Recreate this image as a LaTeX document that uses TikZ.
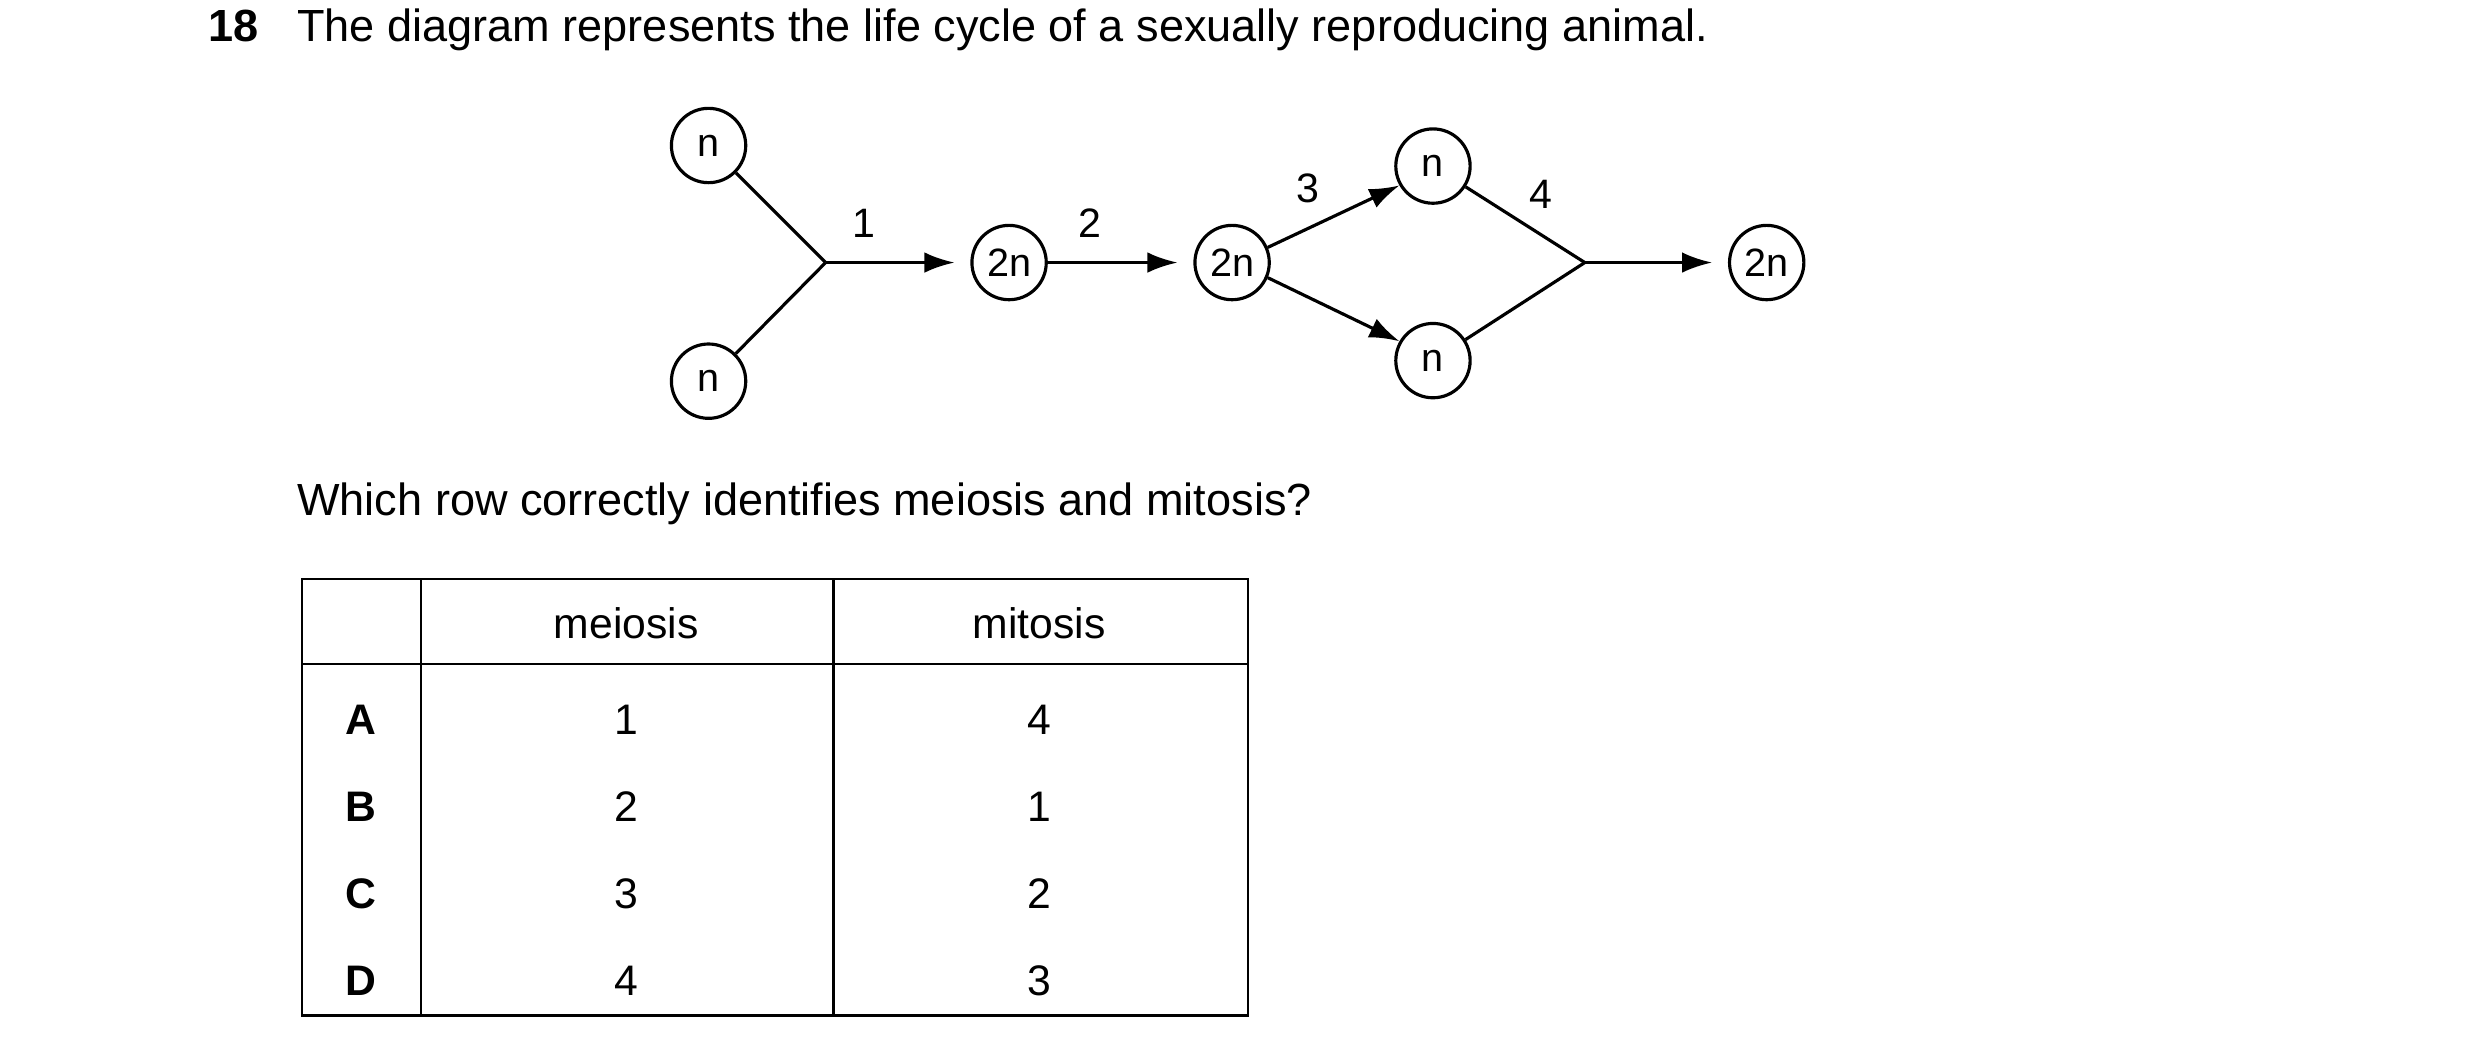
\documentclass[tikz,border=0pt]{standalone}
\usepackage{fontspec}
\setmainfont{Liberation Sans}
\usetikzlibrary{arrows.meta,positioning}
\tikzset{
	cellNode/.style={
		draw=black,
		line width=2pt,
		circle,
		minimum size=47pt,
		inner sep=0pt,
		font=\fontsize{25}{29}\selectfont
	},
	stepLabel/.style={
		font=\fontsize{26}{30}\selectfont
	},
	tabText/.style={
		font=\fontsize{27}{31}\selectfont
	},
}
\begin{document}
\begin{tikzpicture}[x=1pt, y=-1pt, line width=2pt
    ,   toCell/.style={-{Latex[length=19pt, width=13pt]}}]
\useasboundingbox (0,0) rectangle (1568,668);

% question text
\node[anchor=base west, inner sep=0pt, font=\fontsize{28.5}{32}\selectfont\bfseries] (qnum) at (131,26){18};
\node[anchor=base west, inner sep=0pt, font=\fontsize{28.5}{32}\selectfont] (qtext) at (187,26){The diagram represents the life cycle of a sexually reproducing animal.};

% cells
\node[cellNode] (G1) at (448,92){n};
\node[cellNode] (G2) at (448,241){n};
\node[cellNode] (Z1) at (638,166){2n};
\node[cellNode] (Z2) at (779,166){2n};
\node[cellNode] (G3) at (906,105){n};
\node[cellNode] (G4) at (906,228){n};
\node[cellNode] (Z3) at (1117,166){2n};
\coordinate (J1) at (522,166);
\coordinate (J2) at (1002,166);

% connectors
\draw (G1) -- (J1);
\draw (G2) -- (J1);
\draw[toCell] (J1) -- ([xshift=-10pt]Z1.west);
\draw[toCell] (Z1) -- ([xshift=-10pt]Z2.west);
\draw[toCell] (Z2.23) -- (G3.210);
\draw[toCell] (Z2.-23) -- (G4.150);
\draw (G3) -- (J2);
\draw (G4) -- (J2);
\draw[toCell] (J2) -- ([xshift=-10pt]Z3.west);

% step labels
\node[stepLabel] (L1) at (546,141){1};
\node[stepLabel] (L2) at (689,141){2};
\node[stepLabel] (L3) at (827,119){3};
\node[stepLabel] (L4) at (974,123){4};

\node[anchor=base west, inner sep=0pt, font=\fontsize{28.5}{32}\selectfont] (ask) at (187,326){Which row correctly identifies meiosis and mitosis?};

% table
\draw[line width=1.5pt] (191,366) rectangle (789,642);
\draw[line width=1.5pt] (191,420) -- (789,420);
\draw[line width=1.5pt] (266,366) -- (266,642);
\draw[line width=1.5pt] (527,366) -- (527,642);
\node[tabText] (hMe) at (396,394){meiosis};
\node[tabText] (hMi) at (657,394){mitosis};
\foreach \r/\a/\b [count=\i] in {A/1/4, B/2/1, C/3/2, D/4/3}{
    \node[tabText, font=\fontsize{27}{31}\selectfont\bfseries] (r\r) at (228,400+55*\i){\r};
    \node[tabText] (me\r) at (396,400+55*\i){\a};
    \node[tabText] (mi\r) at (657,400+55*\i){\b};
}
\end{tikzpicture}
\end{document}
